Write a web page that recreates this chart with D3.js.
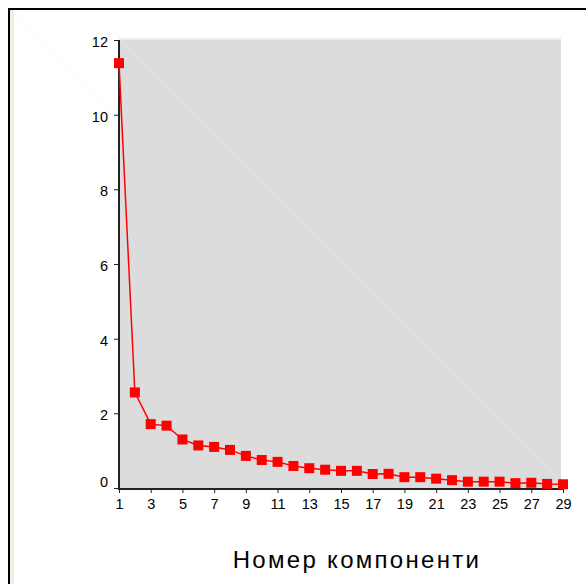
<!DOCTYPE html>
<html>
<head>
<meta charset="utf-8">
<script src="https://cdn.jsdelivr.net/npm/d3@7"></script>
<style>
html,body{margin:0;padding:0;background:#fff;}
svg{display:block;}
text{font-family:"Liberation Sans",Arial,sans-serif;}
</style>
</head>
<body>
<script>
const components = d3.range(1, 30);
const eigenvalues = [11.38, 2.56, 1.71, 1.67, 1.30, 1.14, 1.10, 1.02, 0.86, 0.75,
  0.70, 0.59, 0.53, 0.49, 0.46, 0.46, 0.375, 0.38, 0.29, 0.29,
  0.25, 0.21, 0.17, 0.17, 0.17, 0.13, 0.14, 0.11, 0.10];
const xTicks = [1,3,5,7,9,11,13,15,17,19,21,23,25,27,29];
const yTicks = [0,2,4,6,8,10,12];
const xTitle = "Номер компоненти";

const W = 586, H = 584;
const svg = d3.select("body").append("svg").attr("width", W).attr("height", H);

// frame decorations
svg.append("line").attr("x1",10).attr("y1",8).attr("x2",586).attr("y2",582)
  .attr("stroke","#f7f7f7").attr("stroke-width",1);
svg.append("rect").attr("x",10).attr("y",10).attr("width",4).attr("height",H-10).attr("fill","#efeee4");
svg.append("rect").attr("x",8).attr("y",8).attr("width",2).attr("height",H-8).attr("fill","#000");
svg.append("rect").attr("x",8).attr("y",8).attr("width",W-8).attr("height",2).attr("fill","#000");

const x = d3.scaleLinear().domain([1, 29]).range([119, 563]);
const y = d3.scaleLinear().domain([0, 12]).range([488, 40]);

// plot area
svg.append("rect").attr("x",119).attr("y",38).attr("width",442).attr("height",2).attr("fill","#ececec");
svg.append("rect").attr("x",119).attr("y",40).attr("width",442).attr("height",448).attr("fill","#dcdcdc");
svg.append("line").attr("x1",119).attr("y1",40).attr("x2",561).attr("y2",482)
  .attr("stroke","#e7e7e7").attr("stroke-width",1);

// axes
const yAxis = d3.axisLeft(y).tickValues(yTicks).tickSize(5).tickPadding(6).tickFormat(d3.format("d"));
const gy = svg.append("g").attr("transform","translate(119,0)").call(yAxis);
gy.select(".domain").remove();
gy.selectAll(".tick line").attr("stroke","#222").attr("stroke-width",1);
gy.selectAll(".tick text").attr("font-size",14.5).attr("fill","#000")
  .attr("dy", d => d === 0 ? "-0.1em" : "0.45em");
svg.append("line").attr("x1",119).attr("y1",40).attr("x2",119).attr("y2",490)
  .attr("stroke","#222").attr("stroke-width",2);

const xAxis = d3.axisBottom(x).tickValues(xTicks).tickSize(4).tickPadding(6).tickFormat(d3.format("d"));
const gx = svg.append("g").attr("transform","translate(0,489)").call(xAxis);
gx.select(".domain").remove();
gx.selectAll(".tick line").attr("stroke","#222").attr("stroke-width",1);
gx.selectAll(".tick text").attr("font-size",14.5).attr("fill","#000");
svg.append("line").attr("x1",118).attr("y1",489).attr("x2",564).attr("y2",489)
  .attr("stroke","#222").attr("stroke-width",2);

// series
const data = components.map((c,i)=>({c, v: eigenvalues[i]}));
svg.append("path").datum(data)
  .attr("fill","none").attr("stroke","#ff0000").attr("stroke-width",1.5)
  .attr("d", d3.line().x(d=>x(d.c)).y(d=>y(d.v)));
svg.selectAll("rect.pt").data(data).enter().append("rect").attr("class","pt")
  .attr("x", d=>x(d.c)-5).attr("y", d=>y(d.v)-5).attr("width",10).attr("height",10)
  .attr("fill","#ff0000");

// title
svg.append("text").attr("x",357).attr("y",568).attr("text-anchor","middle")
  .attr("font-size",24).attr("letter-spacing","2.3px").attr("fill","#000").text(xTitle);
</script>
</body>
</html>
